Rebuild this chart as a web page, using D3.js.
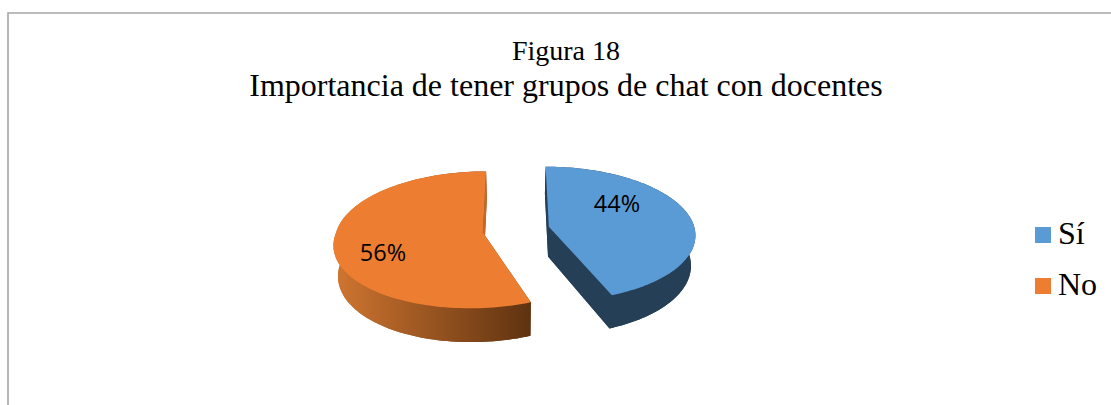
<!DOCTYPE html>
<html>
<head>
<meta charset="utf-8">
<script src="https://cdn.jsdelivr.net/npm/d3@7"></script>
<style>
  html, body { margin: 0; padding: 0; background: #fff; }
  svg { display: block; }
</style>
</head>
<body>
<svg id="chart" width="1111" height="405"></svg>
<script>
var categories = ["Sí", "No"];
var values = [44, 56];
var labels = ["44%", "56%"];
var colors = ["#5b9bd5", "#ed7d31"];
var titleLines = ["Figura 18", "Importancia de tener grupos de chat con docentes"];

var svg = d3.select("#chart");

// frame (only top and left are visible in the crop)
svg.append("path")
    .attr("d", "M8,405V13H1111")
    .attr("fill", "none")
    .attr("stroke", "#a6a6a6")
    .attr("stroke-width", 1.6);

svg.append("text").attr("x", 566).attr("y", 60)
    .attr("text-anchor", "middle")
    .style("font", "28px 'Liberation Serif'")
    .text(titleLines[0]);
svg.append("text").attr("x", 566).attr("y", 96)
    .attr("text-anchor", "middle")
    .style("font", "32px 'Liberation Serif'")
    .text(titleLines[1]);

// fake 3d: disc plane goes through a small perspective, bottom disc is the same shifted down
var X0 = 516, Y0 = 229.5, A = 146, B = 67, k = 0.108, explode = 0.23, wall = 30, shrink = 0.975;
// the front of each slice leans a little sideways in the original
var lean = [0, -9];

function project(u, v, depth, i, v0) {
    var w = 1 - k * v;
    var x = X0 + A * u / w + lean[i] * Math.max(v - v0, 0),
        y = Y0 + B * v / w;
    if (depth) {
        x = X0 + (x - X0) * shrink;
        y = y + wall / w;
    }
    return [x, y];
}

var pie = d3.pie().sort(null).value(function (d) { return d; });
var arcs = pie(values);
var line = d3.line();

arcs.forEach(function (d, i) {
    var mid = (d.startAngle + d.endAngle) / 2;
    d.u0 = explode * Math.sin(mid);
    d.v0 = -explode * Math.cos(mid);
    d.rim = function (depth) {
        return d3.range(0, 121).map(function (n) {
            var a = d.startAngle + (d.endAngle - d.startAngle) * n / 120;
            return project(d.u0 + Math.sin(a), d.v0 - Math.cos(a), depth, i, d.v0);
        });
    };
    d.apex = function (depth) { return project(d.u0, d.v0, depth, i, d.v0); };
});

var defs = svg.append("defs");
var grad = defs.append("linearGradient").attr("id", "orangeWall")
    .attr("gradientUnits", "userSpaceOnUse")
    .attr("x1", 336).attr("x2", 532).attr("y1", 0).attr("y2", 0);
grad.append("stop").attr("offset", 0).attr("stop-color", "#cf7530");
grad.append("stop").attr("offset", 1).attr("stop-color", "#5e3210");

var wallFills = ["#243f56", "url(#orangeWall)"];

var slices = svg.selectAll("g.slice").data(arcs).enter().append("g").attr("class", "slice");

// walls and bottom
slices.each(function (d, i) {
    var g = d3.select(this);
    var top = d.rim(false), bot = d.rim(true);
    g.append("path")
        .attr("d", line([d.apex(true)].concat(bot)) + "Z")
        .attr("fill", wallFills[i]);
    g.append("path")
        .attr("d", line(top.concat(bot.slice().reverse())) + "Z")
        .attr("fill", wallFills[i]);
    // cut faces
    [[top[0], bot[0]], [top[120], bot[120]]].forEach(function (e, j) {
        g.append("path")
            .attr("d", line([d.apex(false), e[0], e[1], d.apex(true)]) + "Z")
            .attr("fill", i == 1 && j == 1 ? "#c4692a" : wallFills[i]);
    });
    g.append("path")
        .attr("d", line([d.apex(false)].concat(top)) + "Z")
        .attr("fill", colors[i]);
});

var labelPos = [[617, 212], [383, 261]];
svg.selectAll("text.pct").data(labels).enter().append("text")
    .attr("class", "pct")
    .attr("x", function (d, i) { return labelPos[i][0]; })
    .attr("y", function (d, i) { return labelPos[i][1]; })
    .attr("text-anchor", "middle")
    .style("font", "23.5px 'Open Sans'")
    .text(function (d) { return d; });

// legend
var legendY = d3.scalePoint().domain(categories).range([235, 286]);
var legend = svg.selectAll("g.legend").data(categories).enter().append("g")
    .attr("class", "legend")
    .attr("transform", function (d) { return "translate(1035," + legendY(d) + ")"; });
legend.append("rect").attr("y", -8).attr("width", 16).attr("height", 16)
    .attr("fill", function (d, i) { return colors[i]; });
legend.append("text").attr("x", 23).attr("y", 9)
    .style("font", "32px 'Liberation Serif'")
    .text(function (d) { return d; });
</script>
</body>
</html>
